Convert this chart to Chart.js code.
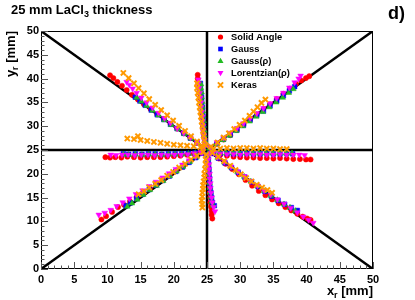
<!DOCTYPE html>
<html>
<head>
<meta charset="utf-8">
<script src="https://cdn.jsdelivr.net/npm/chart.js@4.4.1/dist/chart.umd.min.js"></script>
<style>
  html, body { margin: 0; padding: 0; background: #fff; }
  canvas { display: block; }
</style>
</head>
<body>
<canvas id="chart" width="415" height="300"></canvas>
<script>
// reconstructed positions [x_r, y_r] in mm, grouped by scan arm
const solidAngle = [
  // upper right
  [25.6,25.5],[26.5,26.3],[27.5,27.2],[28.5,28.1],[29.5,29.2],[30.5,30.3],[31.5,31.4],[32.5,32.5],[33.5,33.6],[34.5,34.6],[35.5,35.7],[36.5,36.8],[37.5,37.9],[38.4,38.9],[39.2,39.6],[39.9,40.1],[40.4,40.5],
  // upper left
  [24.4,25.6],[23.5,26.5],[22.5,27.5],[21.5,28.5],[20.5,29.5],[19.5,30.5],[18.5,31.5],[17.5,32.5],[16.5,33.6],[15.5,34.6],[14.6,35.6],[13.7,36.6],[12.9,37.6],[12.2,38.5],[11.5,39.3],[10.9,40.1],[10.4,40.7],
  // left
  [24.0,24.5],[23.0,24.2],[22.0,24.0],[21.0,23.8],[20.0,23.7],[19.0,23.6],[18.0,23.5],[17.0,23.5],[16.0,23.5],[15.0,23.4],[14.0,23.5],[13.0,23.6],[12.1,23.4],[11.2,23.5],[10.4,23.4],[9.7,23.5],
  // lower left
  [24.3,24.4],[23.4,23.5],[22.4,22.6],[21.4,21.6],[20.4,20.7],[19.4,19.8],[18.4,18.8],[17.4,17.9],[16.4,17.0],[15.4,16.0],[14.4,15.1],[13.4,14.2],[12.5,13.5],[11.6,13.0],[10.7,12.0],[9.8,11.1],[9.1,10.4],
  // down
  [25.1,24.0],[25.1,23.0],[25.2,22.0],[25.2,21.0],[25.3,20.0],[25.3,19.0],[25.3,18.0],[25.4,17.0],[25.4,16.0],[25.5,15.0],[25.5,14.0],[25.6,13.1],[25.7,12.2],[25.7,11.4],[25.8,10.6],
  // lower right
  [25.8,24.3],[26.8,23.2],[27.8,22.1],[28.8,21.0],[29.8,19.9],[30.8,18.7],[31.8,17.5],[32.8,16.4],[33.8,15.5],[34.8,14.6],[35.8,13.8],[36.8,13.0],[37.7,12.3],[38.6,11.6],[39.4,11.0],[40.1,10.6],[40.6,10.3],
  // right
  [26.0,24.4],[27.0,24.0],[28.0,23.8],[29.0,23.6],[30.0,23.5],[31.0,23.4],[32.0,23.4],[33.0,23.3],[34.0,23.3],[35.0,23.2],[36.0,23.3],[37.0,23.2],[38.0,23.1],[39.0,23.1],[39.9,23.0],[40.6,23.0],
  // up
  [24.8,26.0],[24.7,27.0],[24.6,28.0],[24.5,29.0],[24.4,30.0],[24.4,31.0],[24.3,32.0],[24.2,33.0],[24.2,34.0],[24.1,35.0],[24.0,36.0],[23.9,37.0],[23.8,38.0],[23.7,39.0],[23.6,40.0],[23.6,40.8]
];

const gauss = [
  [25.5,25.4],[26.5,26.3],[27.5,27.3],[28.5,28.2],[29.5,29.2],[30.5,30.2],[31.5,31.3],[32.5,32.3],[33.5,33.2],[34.5,34.3],[35.5,35.3],[36.5,36.4],[37.4,37.4],[38.2,38.3],
  [24.5,25.5],[23.5,26.5],[22.5,27.5],[21.5,28.5],[20.5,29.5],[19.5,30.4],[18.5,31.4],[17.5,32.4],[16.6,33.4],[15.7,34.4],[14.9,35.3],[14.2,36.1],
  [24.2,24.6],[23.2,24.4],[22.2,24.3],[21.2,24.2],[20.2,24.2],[19.2,24.2],[18.2,24.1],[17.2,24.2],[16.2,24.2],[15.2,24.1],[14.2,24.2],[13.2,24.1],[12.4,24.2],
  [24.3,24.3],[23.3,23.4],[22.3,22.4],[21.3,21.4],[20.3,20.5],[19.3,19.5],[18.3,18.6],[17.3,17.6],[16.3,16.7],[15.3,15.7],[14.4,14.8],[13.5,13.9],[12.8,13.3],
  [25.1,24.0],[25.2,23.0],[25.2,22.0],[25.3,21.0],[25.3,20.0],[25.4,19.0],[25.4,18.0],[25.5,17.0],[25.6,16.0],[25.7,15.0],[25.8,14.0],[26.1,13.3],
  [25.7,24.3],[26.7,23.3],[27.7,22.3],[28.7,21.3],[29.7,20.3],[30.7,19.3],[31.7,18.3],[32.7,17.3],[33.7,16.3],[34.7,15.3],[35.7,14.4],[36.7,13.6],[37.7,12.9],[38.6,12.3],
  [26.0,24.5],[27.0,24.3],[28.0,24.3],[29.0,24.2],[30.0,24.2],[31.0,24.3],[32.0,24.2],[33.0,24.2],[34.0,24.3],[35.0,24.2],[36.0,24.2],[37.0,24.3],[37.9,24.2],
  [24.8,26.0],[24.7,27.0],[24.6,28.0],[24.5,29.0],[24.5,30.0],[24.4,31.0],[24.4,32.0],[24.3,33.0],[24.3,34.0],[24.2,35.0],[24.2,36.0],[24.1,37.0],[24.0,38.0],[24.0,39.0]
];

const gaussRho = [
  [25.4,25.3],[26.4,26.2],[27.4,27.1],[28.4,28.0],[29.4,29.0],[30.4,30.0],[31.4,31.0],[32.4,32.0],[33.4,33.0],[34.4,34.0],[35.4,35.0],[36.4,36.0],[37.3,37.0],[38.0,37.8],
  [24.5,25.4],[23.6,26.4],[22.6,27.4],[21.6,28.4],[20.6,29.4],[19.6,30.3],[18.6,31.3],[17.7,32.3],[16.8,33.3],[15.9,34.3],[15.1,35.2],[14.4,36.0],
  [24.2,24.5],[23.2,24.3],[22.2,24.2],[21.2,24.1],[20.2,24.1],[19.2,24.1],[18.2,24.0],[17.2,24.1],[16.2,24.1],[15.2,24.0],[14.2,24.1],[13.2,24.0],[12.4,24.1],
  [24.4,24.4],[23.4,23.5],[22.4,22.5],[21.4,21.5],[20.4,20.5],[19.4,19.5],[18.4,18.5],[17.4,17.5],[16.4,16.6],[15.4,15.6],[14.5,14.6],[13.7,13.8],[13.0,13.1],
  [25.1,24.1],[25.1,23.1],[25.2,22.1],[25.2,21.1],[25.3,20.1],[25.3,19.1],[25.4,18.1],[25.4,17.1],[25.5,16.1],[25.6,15.1],[25.7,14.1],[25.9,13.3],
  [25.6,24.4],[26.6,23.4],[27.6,22.4],[28.6,21.4],[29.6,20.4],[30.6,19.4],[31.6,18.4],[32.6,17.4],[33.6,16.4],[34.6,15.4],[35.6,14.5],[36.6,13.6],[37.5,12.9],[38.3,12.2],
  [25.9,24.5],[26.9,24.4],[27.9,24.3],[28.9,24.3],[29.9,24.3],[30.9,24.3],[31.9,24.3],[32.9,24.3],[33.9,24.3],[34.9,24.3],[35.9,24.3],[36.9,24.3],[37.8,24.3],
  [24.8,26.1],[24.7,27.1],[24.6,28.1],[24.6,29.1],[24.5,30.1],[24.5,31.1],[24.4,32.1],[24.4,33.1],[24.3,34.1],[24.3,35.1],[24.2,36.1],[24.2,37.1],[24.1,38.0],[24.1,38.8]
];

const lorentzRho = [
  [25.5,25.6],[26.5,26.6],[27.5,27.6],[28.5,28.6],[29.5,29.6],[30.5,30.6],[31.5,31.7],[32.5,32.7],[33.5,33.8],[34.5,34.8],[35.5,35.9],[36.5,37.0],[37.4,38.1],[38.2,39.2],[38.8,40.0],[39.1,40.6],
  [24.5,25.6],[23.5,26.6],[22.5,27.6],[21.5,28.6],[20.5,29.6],[19.5,30.7],[18.6,31.7],[17.7,32.8],[16.8,33.9],[15.9,35.0],[15.1,36.0],[14.4,37.0],[13.8,37.9],[13.3,38.7],[12.9,39.3],
  [24.1,24.5],[23.1,24.3],[22.1,24.1],[21.1,24.0],[20.1,24.0],[19.1,23.9],[18.1,24.0],[17.1,23.9],[16.1,24.0],[15.1,24.0],[14.1,23.9],[13.1,24.0],[12.2,24.0],[11.3,23.9],[10.5,24.0],
  [24.3,24.5],[23.3,23.6],[22.3,22.8],[21.3,21.9],[20.3,21.0],[19.3,20.1],[18.3,19.2],[17.3,18.3],[16.3,17.4],[15.3,16.5],[14.3,15.7],[13.3,14.8],[12.3,14.0],[11.4,13.2],[10.5,12.4],[9.6,11.8],[8.7,11.4],
  [25.2,24.0],[25.2,23.0],[25.3,22.0],[25.3,21.0],[25.4,20.0],[25.4,19.0],[25.5,18.0],[25.5,17.0],[25.6,16.0],[25.7,15.0],[25.8,14.0],[26.0,13.0],[26.2,12.1],
  [25.6,24.4],[26.6,23.5],[27.6,22.5],[28.6,21.5],[29.6,20.5],[30.6,19.5],[31.6,18.5],[32.6,17.5],[33.6,16.5],[34.6,15.6],[35.6,14.6],[36.6,13.7],[37.6,12.8],[38.6,11.9],[39.5,11.0],[40.3,10.3],[41.0,9.7],
  [26.0,24.5],[27.0,24.2],[28.0,24.1],[29.0,24.1],[30.0,24.0],[31.0,24.1],[32.0,24.0],[33.0,24.1],[34.0,24.0],[35.0,24.0],[36.0,24.1],[37.0,24.0],[38.0,24.0],[38.9,24.0],[39.7,23.9],
  [24.7,26.0],[24.6,27.0],[24.5,28.0],[24.4,29.0],[24.4,30.0],[24.3,31.0],[24.3,32.0],[24.2,33.0],[24.1,34.0],[24.1,35.0],[24.0,36.0],[23.9,37.0],[23.8,38.0],[23.7,39.0],[23.7,39.8]
];

const keras = [
  [25.6,25.7],[26.6,26.6],[27.5,27.6],[28.3,28.5],[29.1,29.4],[29.9,30.3],[30.7,31.2],[31.4,32.2],[32.0,33.1],[32.6,34.0],[33.2,34.9],[33.8,35.6],
  [24.3,25.8],[23.5,26.8],[22.6,27.9],[21.7,29.0],[20.8,30.1],[19.9,31.2],[19.0,32.3],[18.1,33.4],[17.2,34.5],[16.3,35.7],[15.5,36.9],[14.7,38.0],[14.0,39.0],[13.2,40.1],[12.4,41.2],
  [24.0,25.6],[23.0,25.8],[22.0,25.9],[21.0,26.0],[20.0,26.1],[19.0,26.3],[18.0,26.5],[17.0,26.7],[16.0,26.9],[15.0,27.1],[14.6,27.9],[14.0,27.3],[13.0,27.4],
  [24.4,24.6],[23.5,23.8],[22.6,23.0],[21.7,22.1],[20.8,21.3],[19.9,20.4],[19.0,19.6],[18.1,18.7],[17.2,17.9],[16.3,17.1],[15.5,16.3],[14.7,15.7],
  [24.9,24.0],[24.8,23.0],[24.8,22.0],[24.7,21.0],[24.6,20.0],[24.6,19.2],[24.5,18.4],[24.4,17.6],[24.4,16.8],[24.3,16.0],[24.3,15.2],[24.2,14.4],[24.3,13.6],[24.3,12.9],
  [25.8,24.4],[26.7,23.6],[27.6,22.7],[28.5,21.7],[29.3,20.8],[30.1,19.9],[30.9,19.1],[31.7,18.4],[32.5,17.7],[33.3,17.1],[34.1,16.6],[34.8,16.0],
  [26.0,25.3],[27.0,25.3],[28.0,25.4],[29.0,25.3],[30.0,25.4],[31.0,25.4],[32.0,25.3],[33.0,25.4],[34.0,25.3],[35.0,25.3],[36.0,25.2],[37.0,25.2],
  [24.8,26.0],[24.6,27.0],[24.5,28.0],[24.4,29.0],[24.3,30.0],[24.2,31.0],[24.1,32.0],[24.0,33.0],[23.9,34.0],[23.8,35.0],[23.7,36.0],[23.6,37.0],[23.5,38.0],[23.5,39.0]
];

// reference lines [x1, y1, x2, y2]
const guideLines = [[0, 0, 50, 50], [0, 50, 50, 0], [0, 25, 50, 25], [25, 0, 25, 50]];

const seriesNames = ['Solid Angle', 'Gauss', 'Gauss(\u03c1)', 'Lorentzian(\u03c1)', 'Keras'];
const seriesData = [solidAngle, gauss, gaussRho, lorentzRho, keras];
const seriesColors = ['#ff0000', '#0000ff', '#22bb22', '#ff00ff', '#ff9900'];
const seriesStyles = ['circle', 'rect', 'triangle', 'triangle', 'crossRot'];
const seriesRotation = [0, 0, 0, 180, 0];
const seriesRadius = [2.6, 3.3, 3.3, 3.3, 3.6];

const FONT = '"Liberation Sans", Arial, sans-serif';

const datasets = [];
guideLines.forEach(l => {
  datasets.push({
    data: [{ x: l[0], y: l[1] }, { x: l[2], y: l[3] }],
    showLine: true,
    borderColor: '#000',
    borderWidth: 2.5,
    pointRadius: 0,
    order: 10
  });
});
seriesData.forEach((pts, i) => {
  datasets.push({
    label: seriesNames[i],
    data: pts.map(p => ({ x: p[0], y: p[1] })),
    pointStyle: seriesStyles[i],
    rotation: seriesRotation[i],
    pointRadius: seriesRadius[i],
    backgroundColor: seriesColors[i],
    borderColor: seriesColors[i],
    borderWidth: seriesStyles[i] === 'crossRot' ? 2 : 0.5,
    order: 5 - i
  });
});

// draw text made of pieces with different sizes / offsets, returns width
function richText(ctx, parts, x, y, measureOnly) {
  let w = 0;
  parts.forEach(p => {
    ctx.font = 'bold ' + p.size + 'px ' + FONT;
    if (!measureOnly) ctx.fillText(p.t, x + w, y + (p.dy || 0));
    w += ctx.measureText(p.t).width;
  });
  return w;
}

function legendMarker(ctx, i, x, y) {
  const c = seriesColors[i];
  ctx.fillStyle = c;
  ctx.strokeStyle = c;
  ctx.beginPath();
  if (i === 0) {
    ctx.arc(x, y, 2.6, 0, Math.PI * 2);
    ctx.fill();
  } else if (i === 1) {
    ctx.fillRect(x - 2.3, y - 2.3, 4.6, 4.6);
  } else if (i === 2) {
    ctx.moveTo(x, y - 3.2); ctx.lineTo(x + 3, y + 2); ctx.lineTo(x - 3, y + 2);
    ctx.closePath(); ctx.fill();
  } else if (i === 3) {
    ctx.moveTo(x, y + 3.2); ctx.lineTo(x + 3, y - 2); ctx.lineTo(x - 3, y - 2);
    ctx.closePath(); ctx.fill();
  } else {
    ctx.lineWidth = 2;
    ctx.moveTo(x - 2.6, y - 2.6); ctx.lineTo(x + 2.6, y + 2.6);
    ctx.moveTo(x + 2.6, y - 2.6); ctx.lineTo(x - 2.6, y + 2.6);
    ctx.stroke();
  }
}

const rootStyle = {
  id: 'rootStyle',
  afterDraw(chart) {
    const ctx = chart.ctx;
    const a = chart.chartArea;
    const xs = chart.scales.x;
    const ys = chart.scales.y;
    ctx.save();

    // frame
    ctx.strokeStyle = '#000';
    ctx.lineWidth = 1;
    ctx.strokeRect(a.left + 0.5, a.top + 0.5, a.right - a.left - 1, a.bottom - a.top - 1);

    // inward ticks, major every 5 mm
    ctx.strokeStyle = '#555';
    for (let v = xs.min; v <= xs.max; v++) {
      const len = v % 5 === 0 ? 7 : 3.5;
      const px = Math.round(xs.getPixelForValue(v)) + 0.5;
      ctx.beginPath(); ctx.moveTo(px, a.bottom); ctx.lineTo(px, a.bottom - len); ctx.stroke();
    }
    for (let v = ys.min; v <= ys.max; v++) {
      const len = v % 5 === 0 ? 7 : 3.5;
      const py = Math.round(ys.getPixelForValue(v)) + 0.5;
      ctx.beginPath(); ctx.moveTo(a.left, py); ctx.lineTo(a.left + len, py); ctx.stroke();
    }

    ctx.fillStyle = '#000';
    ctx.textAlign = 'left';
    ctx.textBaseline = 'alphabetic';

    // title
    richText(ctx, [{ t: '25 mm LaCl', size: 13 }, { t: '3', size: 9, dy: 3.5 }, { t: ' thickness', size: 13 }], 11, 13.5);
    ctx.font = 'bold 18px ' + FONT;
    ctx.fillText('d)', 388, 19);

    // axis titles
    const xt = [{ t: 'x', size: 13 }, { t: 'r', size: 9, dy: 3 }, { t: ' [mm]', size: 13 }];
    const xw = richText(ctx, xt, 0, 0, true);
    richText(ctx, xt, a.right - xw, 295);

    const yt = [{ t: 'y', size: 13 }, { t: 'r', size: 9, dy: 3 }, { t: ' [mm]', size: 13 }];
    const yw = richText(ctx, yt, 0, 0, true);
    ctx.save();
    ctx.translate(15, a.top);
    ctx.rotate(-Math.PI / 2);
    richText(ctx, yt, -yw, 0);
    ctx.restore();

    // legend
    ctx.textBaseline = 'middle';
    seriesNames.forEach((name, i) => {
      const ly = 37 + i * 12;
      legendMarker(ctx, i, 220.5, ly);
      ctx.fillStyle = '#000';
      ctx.font = 'bold 9.3px ' + FONT;
      ctx.fillText(name, 231, ly + 0.5);
    });

    ctx.restore();
  }
};

new Chart(document.getElementById('chart'), {
  type: 'scatter',
  data: { datasets },
  options: {
    responsive: false,
    animation: false,
    devicePixelRatio: 1,
    layout: { padding: { top: 31, right: 42, left: 0, bottom: 0 } },
    plugins: { legend: { display: false }, tooltip: { enabled: false } },
    scales: {
      x: {
        min: 0, max: 50,
        grid: { display: false, drawTicks: false },
        border: { display: false },
        ticks: { stepSize: 5, padding: 4, maxRotation: 0, color: '#000', font: { family: FONT, size: 11, weight: 'bold' } },
        afterFit(scale) { scale.height = 31; }
      },
      y: {
        min: 0, max: 50,
        grid: { display: false, drawTicks: false },
        border: { display: false },
        ticks: { stepSize: 5, padding: 2, color: '#000', font: { family: FONT, size: 11, weight: 'bold' } },
        afterFit(scale) { scale.width = 41; }
      }
    }
  },
  plugins: [rootStyle]
});
</script>
</body>
</html>
